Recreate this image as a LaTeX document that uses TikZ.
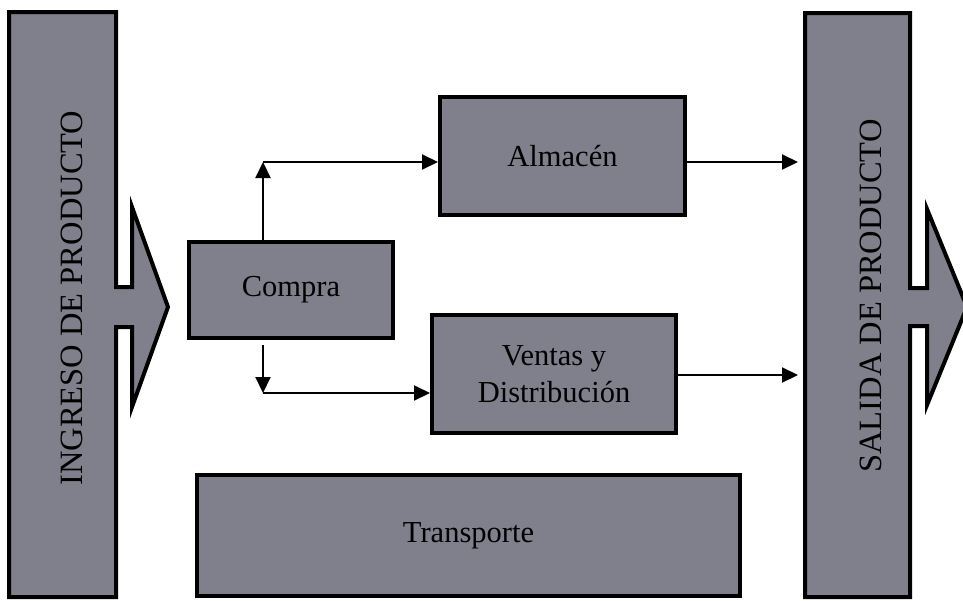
\documentclass[tikz,border=0pt]{standalone}
\usepackage{fontspec}
\setmainfont{Liberation Serif}
\usetikzlibrary{arrows.meta}
\definecolor{boxgray}{RGB}{128,128,140}
\tikzset{
  procbox/.style={draw=black, line width=4pt, fill=boxgray, rectangle, inner sep=0pt,
    font=\fontsize{30.5}{37}\selectfont, align=center},
  barshape/.style={draw=black, line width=4pt, fill=boxgray, line join=miter, miter limit=12},
  bartext/.style={font=\fontsize{32.5}{36}\selectfont, rotate=90, inner sep=0pt},
  conn/.style={line width=2pt, -{Triangle[length=16pt,width=15pt]}}
}
\begin{document}
\begin{tikzpicture}[x=1pt,y=-1pt]
\useasboundingbox (0,0) rectangle (963,600);
\clip (0,0) rectangle (963,600);
% left bar with arrow
\draw[barshape] (9,12) -- (116,12) -- (116,287) -- (132,287) -- (132,207) -- (168,307)
  -- (132,407) -- (132,327) -- (116,327) -- (116,597) -- (9,597) -- cycle;
\node[bartext] (ingreso) at (72,298) {INGRESO DE PRODUCTO};
% right bar with arrow
\draw[barshape] (805,13) -- (910,13) -- (910,288) -- (927,288) -- (927,209) -- (967,307)
  -- (927,405) -- (927,326) -- (910,326) -- (910,597) -- (805,597) -- cycle;
\node[bartext] (salida) at (871,296) {SALIDA DE PRODUCTO};
\coordinate (salidaL) at (798,0);
% boxes
\node[procbox, minimum width=204pt, minimum height=96pt] (compra) at (291,290) {Compra};
\node[procbox, minimum width=245pt, minimum height=118pt] (almacen) at (562.5,156) {Almacén};
\node[procbox, minimum width=244pt, minimum height=118pt] (ventas) at (554,374) {Ventas y\\Distribución};
\node[procbox, minimum width=543pt, minimum height=121pt] (transporte) at (468.5,535.5) {Transporte};
% connectors
\coordinate (up) at (263,162);
\coordinate (dn) at (263,393);
\draw[conn] (compra.north -| up) -- (up);
\draw[conn] (up) -- (almacen.west |- up);
\draw[conn] ([yshift=-5pt]compra.south -| dn) -- (dn);
\draw[conn] (dn) -- (ventas.west |- dn);
\coordinate (a1) at (0,162);
\coordinate (v1) at (0,375);
\draw[conn] (almacen.east |- a1) -- (salidaL |- a1);
\draw[conn] (ventas.east |- v1) -- (salidaL |- v1);
\end{tikzpicture}
\end{document}
